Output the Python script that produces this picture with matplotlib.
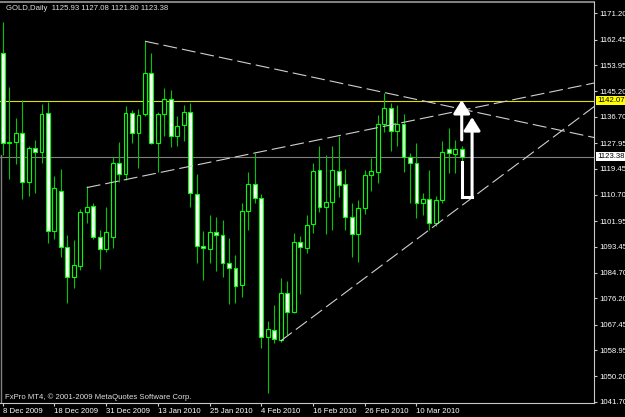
import matplotlib
matplotlib.use("Agg")
import numpy as np
import matplotlib.pyplot as plt
import matplotlib.transforms as mtransforms
from matplotlib.patches import Rectangle

#   daily GOLD candles, 8 Dec 2009 .. 19 Mar 2010

opens = [1157.9, 1127.9, 1128.4, 1131.2, 1114.9, 1126.2, 1124.9, 1137.9, 1098.6, 1112.0,
         1093.2, 1083.4, 1087.1, 1104.9, 1107.0, 1096.7, 1092.5, 1096.7, 1121.2, 1117.6,
         1137.9, 1131.4, 1137.5, 1151.4, 1127.9, 1137.5, 1142.5, 1130.3, 1133.9, 1138.2,
         1110.9, 1093.6, 1092.5, 1098.2, 1097.4, 1087.9, 1086.4, 1080.6, 1105.3, 1114.3,
         1109.5, 1063.4, 1065.6, 1062.3, 1077.9, 1071.7, 1095.1, 1092.9, 1101.0, 1119.0,
         1106.5, 1108.2, 1118.7, 1114.2, 1103.4, 1097.5, 1106.2, 1117.3, 1118.4, 1134.2,
         1139.5, 1132.0, 1134.2, 1123.4, 1121.2, 1107.9, 1109.3, 1101.4, 1109.0, 1125.9,
         1124.3, 1125.93]
highs = [1168.4, 1146.7, 1136.4, 1142.3, 1127.1, 1129.0, 1140.9, 1141.7, 1117.1, 1119.3,
         1097.3, 1095.6, 1105.9, 1113.6, 1108.1, 1099.0, 1106.7, 1123.4, 1128.4, 1140.3,
         1138.9, 1139.2, 1161.9, 1157.9, 1138.4, 1146.2, 1145.6, 1137.0, 1140.6, 1141.4,
         1117.5, 1098.6, 1104.0, 1103.4, 1102.3, 1096.2, 1090.6, 1107.9, 1118.4, 1124.7,
         1110.9, 1068.7, 1073.9, 1083.1, 1082.1, 1097.9, 1097.0, 1104.0, 1121.2, 1127.1,
         1124.0, 1127.0, 1130.3, 1119.2, 1107.9, 1109.0, 1119.0, 1123.1, 1137.3, 1144.7,
         1141.4, 1140.6, 1137.6, 1124.5, 1127.9, 1111.4, 1119.0, 1110.3, 1128.7, 1132.9,
         1129.0, 1127.08]
lows = [1124.0, 1116.0, 1121.0, 1109.2, 1110.3, 1111.2, 1121.2, 1094.5, 1095.9, 1089.9,
        1074.5, 1079.5, 1085.6, 1101.4, 1095.9, 1085.9, 1091.7, 1092.9, 1115.1, 1115.6,
        1128.1, 1119.5, 1137.1, 1127.5, 1118.4, 1130.3, 1126.5, 1127.1, 1128.6, 1106.7,
        1088.1, 1082.3, 1088.1, 1085.3, 1083.2, 1074.2, 1074.5, 1076.7, 1099.0, 1107.9,
        1059.5, 1044.5, 1061.2, 1061.7, 1064.0, 1071.2, 1077.6, 1091.2, 1097.9, 1104.9,
        1097.6, 1099.0, 1109.9, 1099.0, 1089.9, 1088.2, 1104.2, 1112.0, 1114.5, 1131.7,
        1125.4, 1127.1, 1118.4, 1108.1, 1102.9, 1104.0, 1099.0, 1100.3, 1108.1, 1118.1,
        1118.1, 1121.80]
closes = [1127.9, 1128.4, 1131.2, 1114.9, 1126.2, 1124.9, 1137.5, 1098.6, 1113.1, 1093.2,
          1083.4, 1087.3, 1105.1, 1106.5, 1096.5, 1092.5, 1098.2, 1121.2, 1117.6, 1137.9,
          1131.4, 1137.3, 1151.4, 1127.9, 1137.5, 1142.5, 1130.3, 1133.7, 1138.2, 1111.2,
          1093.6, 1092.9, 1098.2, 1097.4, 1087.9, 1086.4, 1080.4, 1105.3, 1114.3, 1109.5,
          1063.4, 1065.9, 1062.6, 1077.9, 1071.7, 1095.1, 1093.2, 1100.6, 1118.7, 1106.5,
          1108.2, 1119.0, 1114.0, 1103.2, 1097.5, 1106.2, 1117.3, 1118.7, 1134.2, 1139.5,
          1132.0, 1134.2, 1123.4, 1121.4, 1107.9, 1109.3, 1101.2, 1109.0, 1125.1, 1124.7,
          1126.0, 1123.38]

date_labels = ['8 Dec 2009', '18 Dec 2009', '31 Dec 2009', '13 Jan 2010', '25 Jan 2010',
               '4 Feb 2010', '16 Feb 2010', '26 Feb 2010', '10 Mar 2010']
price_ticks = [1171.20, 1162.45, 1153.95, 1145.20, 1136.70, 1127.95, 1119.45, 1110.70,
               1101.95, 1093.45, 1084.70, 1076.20, 1067.45, 1058.95, 1050.20, 1041.70]

#   trendlines: two anchor points each (bar index, price), drawn as rays

trend_a = [(22, 1161.9), (91.46, 1129.8)]
trend_b = [(13, 1113.1), (91.35, 1147.9)]
trend_c = [(43, 1062.0), (91.35, 1139.9)]

level_line = 1142.07
bid_price = 1123.38

#   hand drawn arrows (bar index, bottom price, top price)
arrow_left = (71.0, 1109.97, 1142.3)
arrow_right = (72.6, 1109.97, 1136.6)
arrow_gap = (1121.6, 1129.0)

fig = plt.figure(figsize=(6.25, 4.17), dpi=100, facecolor='black')
ax = fig.add_axes([0, 14 / 417, 594 / 625, 401 / 417])
ax.set_facecolor('black')
ax.set_xlim(-0.42, 91.46)
ax.set_ylim(1041.3, 1174.97)

font = 'Liberation Sans'
fs = 5.6

#   candles

width = 0.6
for i in range(len(opens)):
    o, h, l, c = opens[i], highs[i], lows[i], closes[i]
    ax.vlines(i, l, h, color='#00c800', lw=0.8, zorder=3)
    bear = c < o
    bottom = min(o, c)
    height = max(abs(c - o), 0.3)
    ax.add_patch(Rectangle((i - width / 2, bottom), width, height,
                           facecolor='white' if bear else 'black',
                           edgecolor='#00ff00', lw=0.8, zorder=4))

#   horizontal lines

ax.axhline(level_line, color='#e0e000', lw=0.8, zorder=2)
ax.axhline(bid_price, color='#808080', lw=0.8, zorder=1)
ax.plot([-0.2, -0.2], [ax.get_ylim()[0], 1124.0], color='#808080', lw=1.0, zorder=1)

#   trendlines

x_end = 100
for (x0, y0), (x1, y1) in [trend_a, trend_b, trend_c]:
    slope = (y1 - y0) / (x1 - x0)
    ax.plot([x0, x_end], [y0, y0 + slope * (x_end - x0)], color='#d0d0d0', lw=0.8,
            ls=(0, (12.5, 4.5)), zorder=5, solid_capstyle='butt', dash_capstyle='butt')

#   arrows

ax.annotate('', xy=(arrow_left[0], arrow_left[2]), xytext=(arrow_left[0], arrow_gap[1]),
            arrowprops=dict(arrowstyle='-|>,head_width=0.5,head_length=0.8', lw=2.2,
                            color='white', shrinkA=0, shrinkB=0), zorder=6)
ax.plot([arrow_left[0], arrow_left[0]], [arrow_left[1], arrow_gap[0]], color='white', lw=2.2, zorder=6)
ax.annotate('', xy=(arrow_right[0], arrow_right[2]), xytext=(arrow_right[0], arrow_right[1]),
            arrowprops=dict(arrowstyle='-|>,head_width=0.5,head_length=0.8', lw=2.2,
                            color='white', shrinkA=0, shrinkB=0), zorder=6)
ax.plot([arrow_left[0], arrow_right[0]], [arrow_left[1], arrow_right[1]], color='white', lw=2.2,
        zorder=6, solid_capstyle='projecting')

#   axes

for side in ['left', 'top']:
    ax.spines[side].set_visible(False)
for side in ['right', 'bottom']:
    ax.spines[side].set_color('#c8c8c8')
    ax.spines[side].set_linewidth(0.8)
ax.plot([0, 1], [1.0, 1.0], transform=ax.transAxes, color='#808080', lw=1.5, clip_on=False)

ax.yaxis.tick_right()
ax.set_yticks(price_ticks)
ax.set_yticklabels(['%.2f' % p for p in price_ticks], fontsize=fs, family=font, color='white')
ax.set_xticks(range(0, 8 * len(date_labels), 8))
ax.set_xticklabels(date_labels, fontsize=fs, family=font, color='white', ha='left')
ax.tick_params(axis='y', colors='#c8c8c8', length=2.5, width=0.8, pad=1.5, labelcolor='white')
ax.tick_params(axis='x', colors='#c8c8c8', length=2.5, width=0.8, pad=1.0, labelcolor='white')
for lab in ax.get_xticklabels():
    lab.set_x(lab.get_position()[0])

trans = mtransforms.blended_transform_factory(ax.transAxes, ax.transData)
ax.text(1.006, level_line, '%.2f' % level_line, transform=trans, ha='left', va='center',
        fontsize=fs, family=font, color='black',
        bbox=dict(boxstyle='square,pad=0.15', fc='#ffff00', ec='none'))
ax.text(1.006, bid_price, '%.2f' % bid_price, transform=trans, ha='left', va='center',
        fontsize=fs, family=font, color='black',
        bbox=dict(boxstyle='square,pad=0.15', fc='white', ec='none'))

fig.text(6 / 625, 1 - 8 / 417, 'GOLD,Daily  %.2f %.2f %.2f %.2f' % (opens[-1], highs[-1], lows[-1], closes[-1]),
         fontsize=fs, family=font, color='#e0e0e0', va='center', ha='left')
fig.text(5 / 625, 1 - 397 / 417, 'FxPro MT4, \u00a9 2001-2009 MetaQuotes Software Corp.',
         fontsize=fs, family=font, color='#e0e0e0', va='center', ha='left')

fig.savefig('out.png', dpi=100, facecolor='black')
